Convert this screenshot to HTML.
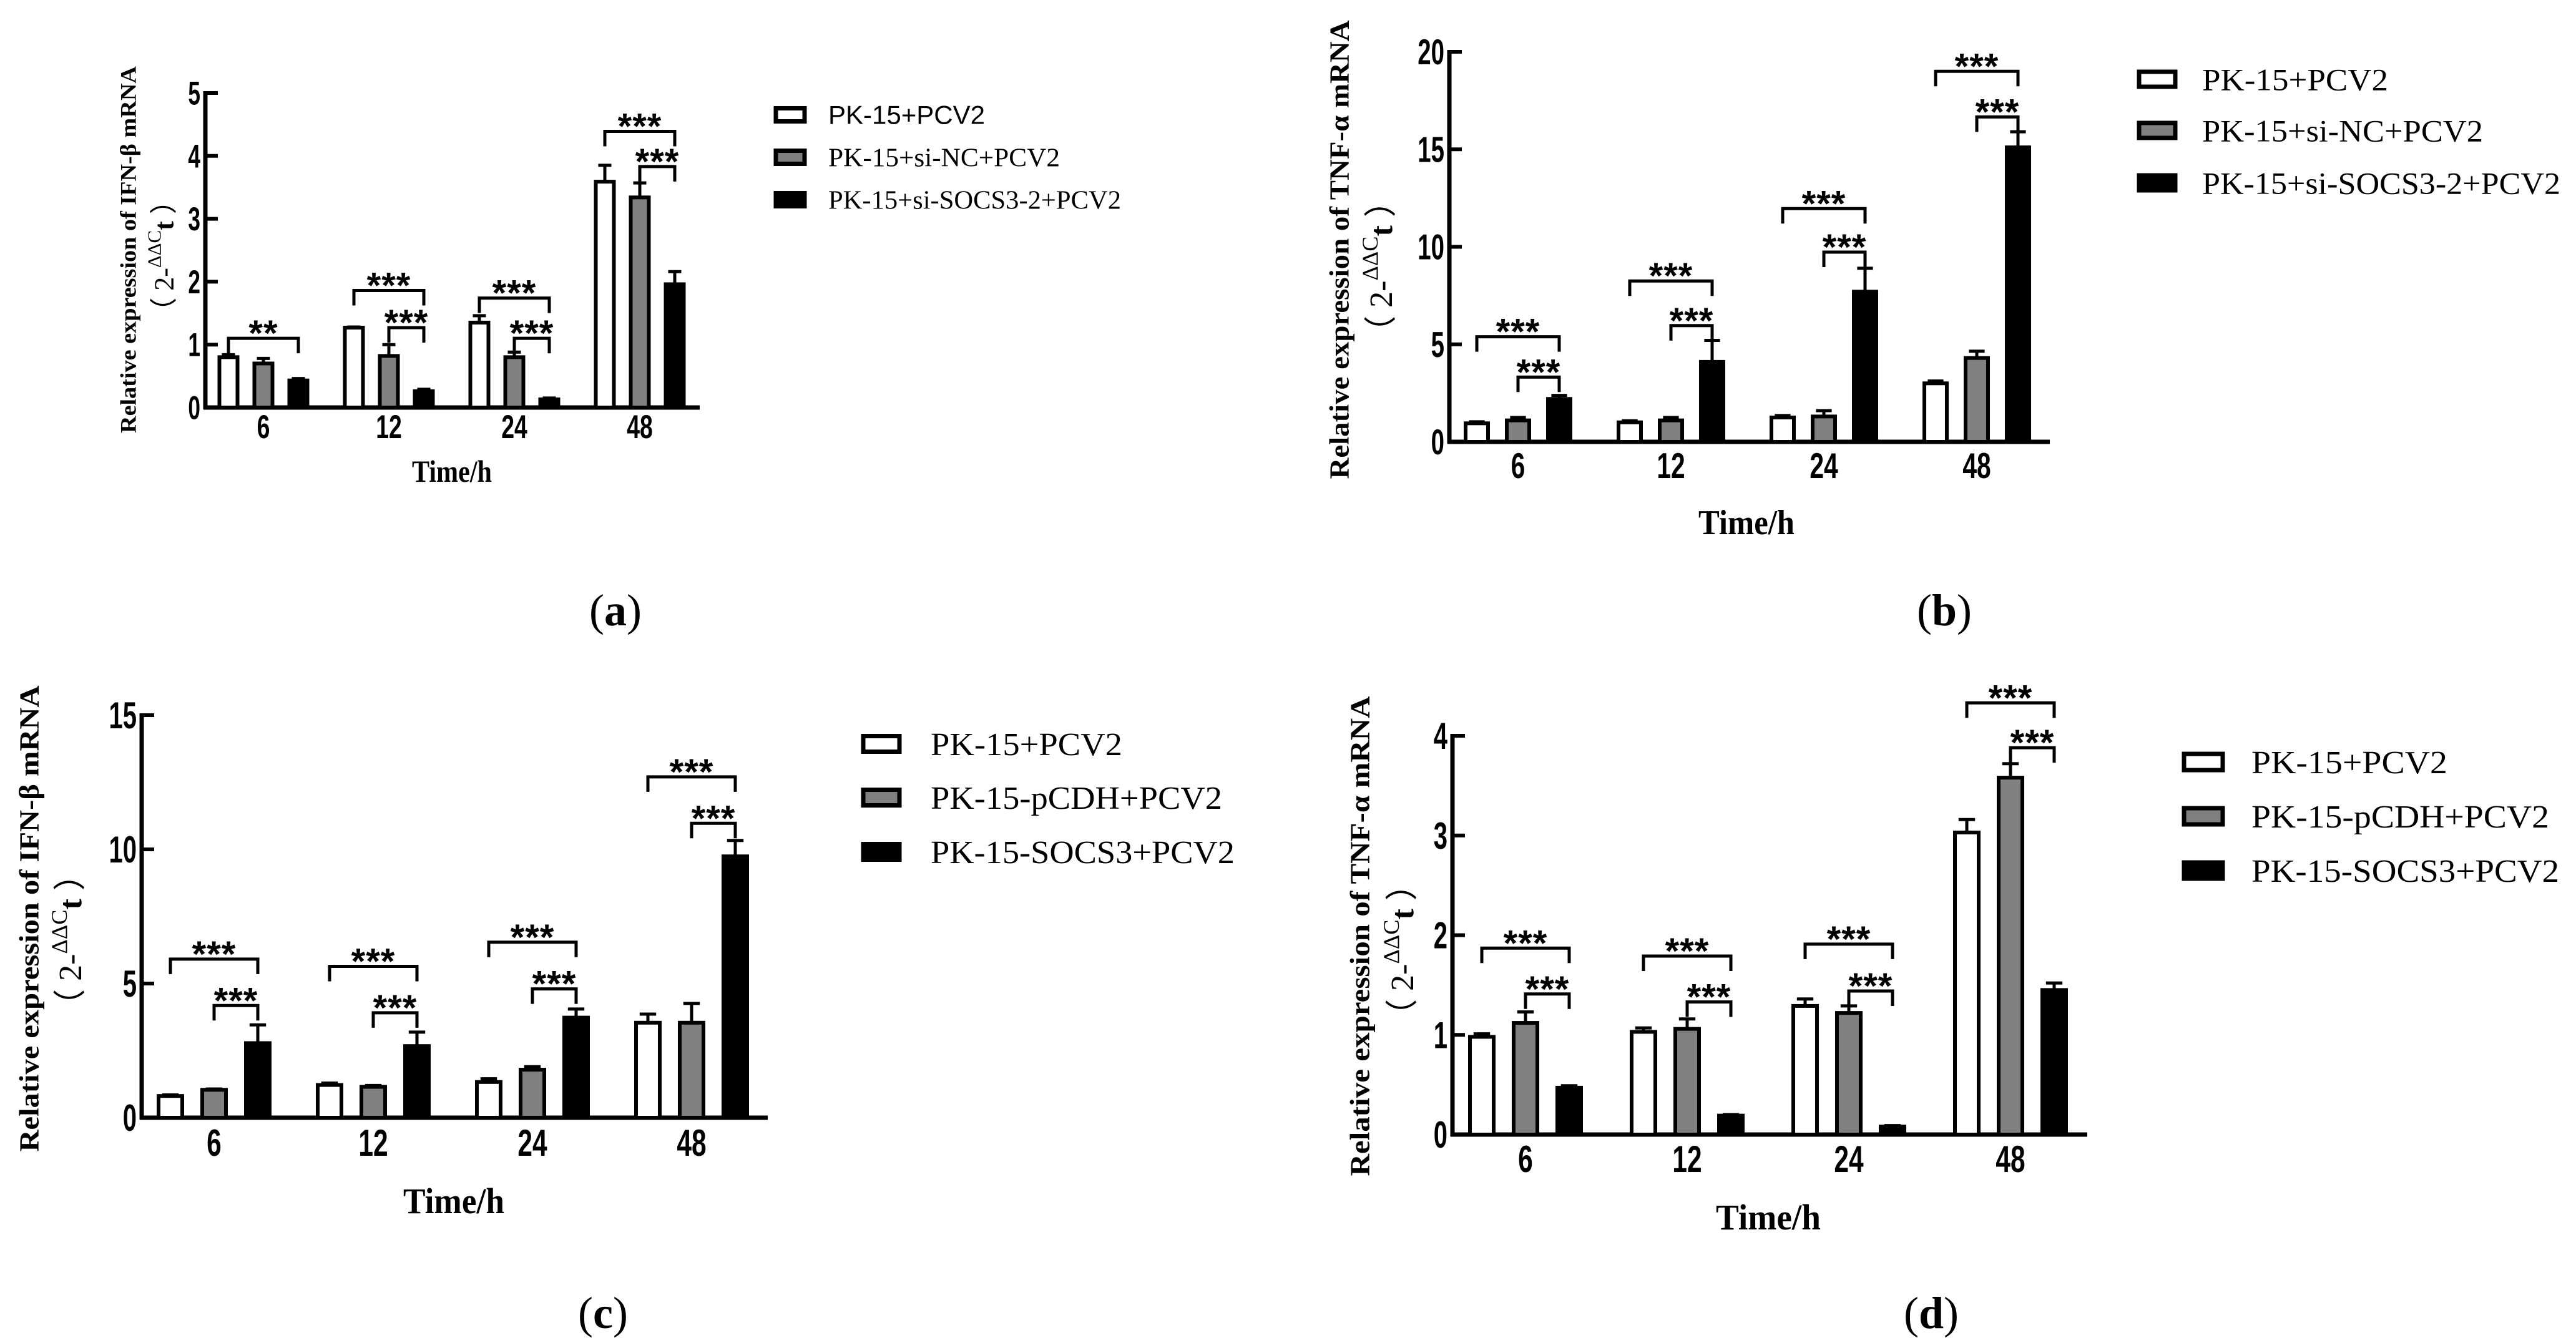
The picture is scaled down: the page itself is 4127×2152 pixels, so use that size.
<!DOCTYPE html>
<html><head><meta charset="utf-8">
<style>
html,body{margin:0;padding:0;background:#fff;}
svg{display:block;}
</style></head>
<body>
<svg id="fig" xmlns="http://www.w3.org/2000/svg" width="4127" height="2152" viewBox="0 0 4127 2152">
<rect x="0" y="0" width="4127" height="2152" fill="#fff"/>
</svg>
<script>
// ---------- data ----------
const categories = ["6","12","24","48"];
// panel a: IFN-β (siRNA)
const aWhite = [0.80,1.27,1.35,3.59];
const aWhiteErr = [0.04,0.01,0.11,0.26];
const aGray = [0.70,0.82,0.80,3.34];
const aGrayErr = [0.08,0.18,0.08,0.23];
const aBlack = [0.43,0.26,0.13,1.96];
const aBlackErr = [0.03,0.03,0.02,0.20];
const aBigBracket = [1.10,1.86,1.74,4.39];
const aSmallBracket = [null,1.27,1.10,3.83];
const aBigStars = ["**","***","***","***"];
const aTicks = ["0","1","2","3","4","5"];
// panel b: TNF-α (siRNA)
const bWhite = [0.95,1.00,1.25,3.00];
const bWhiteErr = [0.08,0.08,0.10,0.12];
const bGray = [1.10,1.10,1.30,4.30];
const bGrayErr = [0.15,0.15,0.30,0.35];
const bBlack = [2.20,4.10,7.70,15.10];
const bBlackErr = [0.18,1.10,1.20,0.80];
const bBigBracket = [5.39,8.25,11.96,19.0];
const bSmallBracket = [3.32,5.96,9.73,16.66];
const bBigStars = ["***","***","***","***"];
const bTicks = ["0","5","10","15","20"];
// panel c: IFN-β (overexpression)
const cWhite = [0.81,1.22,1.33,3.54];
const cWhiteErr = [0.04,0.07,0.12,0.32];
const cGray = [1.04,1.15,1.79,3.54];
const cGrayErr = [0.03,0.05,0.11,0.72];
const cBlack = [2.78,2.67,3.73,9.74];
const cBlackErr = [0.68,0.52,0.32,0.59];
const cBigBracket = [5.91,5.64,6.54,12.7];
const cSmallBracket = [4.18,3.91,4.80,10.97];
const cBigStars = ["***","***","***","***"];
const cTicks = ["0","5","10","15"];
// panel d: TNF-α (overexpression)
const dWhite = [0.98,1.03,1.29,3.03];
const dWhiteErr = [0.03,0.04,0.07,0.13];
const dGray = [1.12,1.06,1.22,3.58];
const dGrayErr = [0.11,0.10,0.07,0.14];
const dBlack = [0.47,0.19,0.08,1.45];
const dBlackErr = [0.02,0.01,0.01,0.07];
const dBigBracket = [1.87,1.79,1.91,4.33];
const dSmallBracket = [1.41,1.33,1.44,3.88];
const dBigStars = ["***","***","***","***"];
const dTicks = ["0","1","2","3","4"];

const aLegend = ["PK-15+PCV2","PK-15+si-NC+PCV2","PK-15+si-SOCS3-2+PCV2"];
const bLegend = ["PK-15+PCV2","PK-15+si-NC+PCV2","PK-15+si-SOCS3-2+PCV2"];
const cLegend = ["PK-15+PCV2","PK-15-pCDH+PCV2","PK-15-SOCS3+PCV2"];
const dLegend = ["PK-15+PCV2","PK-15-pCDH+PCV2","PK-15-SOCS3+PCV2"];

// ---------- layout ----------
const NS = "http://www.w3.org/2000/svg";
const svg = document.getElementById('fig');
function mk(tag, attrs, parent){
  const e = document.createElementNS(NS, tag);
  for (const k in attrs) e.setAttribute(k, attrs[k]);
  (parent||svg).appendChild(e);
  return e;
}

const panels = [
 {id:'a', ax:329, y0:653, yTop:149, yMax:5, xEnd:1121, first:93, sp:201, off:56, bw:35, tickFs:44, xlabY:702, xlabFs:44,
  white:aWhite, whiteErr:aWhiteErr, gray:aGray, grayErr:aGrayErr, black:aBlack, blackErr:aBlackErr,
  big:aBigBracket, small:aSmallBracket, stars:aBigStars, ticks:aTicks, legend:aLegend,
  leg:{sx:1240, sw:52, sh:27, rows:[184,252,320], tx:1327, ends:[1578,1698,1796], fs:42, firstSans:true},
  title:{x:205, y:400, len:588, fs:36, text:"Relative expression of IFN-\u03b2 mRNA"}, sub:{x:262, y:410, fs:44},
  time:{x:724, y:772, len:128, fs:50}, lab:{x:986, y:1002, t:"a"}},
 {id:'b', ax:2322, y0:708, yTop:83, yMax:20, xEnd:3284, first:110, sp:245, off:66, bw:42, tickFs:48, xlabY:766, xlabFs:48,
  white:bWhite, whiteErr:bWhiteErr, gray:bGray, grayErr:bGrayErr, black:bBlack, blackErr:bBlackErr,
  big:bBigBracket, small:bSmallBracket, stars:bBigStars, ticks:bTicks, legend:bLegend,
  leg:{sx:3424, sw:64, sh:30, rows:[127,209,293], tx:3528, ends:[3826,3978,4102], fs:50},
  title:{x:2145, y:400, len:735, fs:44, text:"Relative expression of TNF-\u03b1 mRNA"}, sub:{x:2212, y:427, fs:52},
  time:{x:2798, y:856, len:154, fs:56}, lab:{x:3115, y:1002, t:"b"}},
 {id:'c', ax:227, y0:1791, yTop:1146, yMax:15, xEnd:1230, first:116, sp:255, off:70, bw:44, tickFs:50, xlabY:1852, xlabFs:50,
  white:cWhite, whiteErr:cWhiteErr, gray:cGray, grayErr:cGrayErr, black:cBlack, blackErr:cBlackErr,
  big:cBigBracket, small:cSmallBracket, stars:cBigStars, ticks:cTicks, legend:cLegend,
  leg:{sx:1380, sw:64, sh:31, rows:[1192,1278,1365], tx:1491, ends:[1798,1958,1978], fs:52},
  title:{x:46, y:1472, len:747, fs:44, text:"Relative expression of IFN-\u03b2 mRNA"}, sub:{x:112, y:1506, fs:52},
  time:{x:727, y:1944, len:162, fs:58}, lab:{x:966, y:2128, t:"c"}},
 {id:'d', ax:2327, y0:1818, yTop:1179, yMax:4, xEnd:3344, first:117, sp:259, off:70, bw:44, tickFs:50, xlabY:1878, xlabFs:50,
  white:dWhite, whiteErr:dWhiteErr, gray:dGray, grayErr:dGrayErr, black:dBlack, blackErr:dBlackErr,
  big:dBigBracket, small:dSmallBracket, stars:dBigStars, ticks:dTicks, legend:dLegend,
  leg:{sx:3496, sw:68, sh:32, rows:[1221,1308,1395], tx:3607, ends:[3921,4084,4100], fs:52},
  title:{x:2178, y:1500, len:769, fs:44, text:"Relative expression of  TNF-\u03b1 mRNA"}, sub:{x:2246, y:1522, fs:52},
  time:{x:2833, y:1970, len:168, fs:58}, lab:{x:3094, y:2128, t:"d"}}
];

panels.forEach(p => {
  const g = mk('g', {});
  
  
  const yS = v => p.y0 - v / p.yMax * (p.y0 - p.yTop);
  const xC = i => p.ax + p.first + i * p.sp;

  // axes
  const yAxis = mk('line', {x1:p.ax, y1:p.yTop-3, x2:p.ax, y2:p.y0+3, stroke:'#000', 'stroke-width':7}, g);
  
  
  const xAxis = mk('line', {x1:p.ax-3, y1:p.y0, x2:p.xEnd, y2:p.y0, stroke:'#000', 'stroke-width':7}, g);
  
  

  // y ticks
  const step = p.yMax / (p.ticks.length - 1);
  p.ticks.forEach((t, k) => {
    const y = yS(k * step);
    mk('line', {x1:p.ax, y1:y, x2:p.ax+20, y2:y, stroke:'#000', 'stroke-width':6}, g);
    const tx = mk('text', {x:0, y:0, 'font-family':'Liberation Sans, sans-serif', 'font-weight':'bold',
      'font-size':p.tickFs, 'text-anchor':'end', transform:`translate(${p.ax-8},${y+p.tickFs*0.42}) scale(0.8,1.2)`}, g);
    tx.textContent = t;
    
    
  });

  // bars
  const series = [
    {vals:p.white, err:p.whiteErr, fill:'#fff', o:-p.off, n:'white'},
    {vals:p.gray, err:p.grayErr, fill:'#808080', o:0, n:'gray'},
    {vals:p.black, err:p.blackErr, fill:'#000', o:p.off, n:'black'}];
  categories.forEach((c, i) => {
    series.forEach(s => {
      const cx = xC(i) + s.o;
      const top = yS(s.vals[i]);
      const et = yS(s.vals[i] + s.err[i]);
      const el = mk('line', {x1:cx, y1:top, x2:cx, y2:et, stroke:'#000', 'stroke-width':5}, g);
      
      
      mk('line', {x1:cx-p.bw*0.3, y1:et, x2:cx+p.bw*0.3, y2:et, stroke:'#000', 'stroke-width':5}, g);
      const r = mk('rect', {x:cx-p.bw/2+3, y:top, width:p.bw-6, height:p.y0-top, fill:s.fill, stroke:'#000', 'stroke-width':6}, g);
      
      
    });
    // x label
    const xl = mk('text', {x:0, y:0, 'font-family':'Liberation Sans, sans-serif', 'font-weight':'bold',
      'font-size':p.xlabFs, 'text-anchor':'middle', transform:`translate(${xC(i)},${p.xlabY}) scale(0.85,1.2)`}, g);
    xl.textContent = c;
    
    

    // brackets
    const drawBr = (x1, x2, v, label) => {
      const y = yS(v);
      const br = mk('path', {d:`M${x1},${y+24} L${x1},${y} L${x2},${y} L${x2},${y+24}`, fill:'none', stroke:'#000', 'stroke-width':5}, g);
      
      
      const st = mk('text', {x:(x1+x2)/2, y:y+12, 'font-family':'Liberation Sans, sans-serif', 'font-size':58,
        'font-weight':'bold', 'text-anchor':'middle', 'letter-spacing':'1'}, g);
      st.textContent = label;
      
      
    };
    drawBr(xC(i) - p.off, xC(i) + p.off, p.big[i], p.stars[i]);
    if (p.small[i] !== null) drawBr(xC(i), xC(i) + p.off, p.small[i], "***");
  });

  // legend
  const fills = ['#fff', '#808080', '#000'];
  p.legend.forEach((t, k) => {
    const L = p.leg;
    const cy = L.rows[k];
    const sq = mk('rect', {x:L.sx+3, y:cy-L.sh/2+3, width:L.sw-6, height:L.sh-6, fill:fills[k], stroke:'#000', 'stroke-width':7}, g);
    
    
    const sans = L.firstSans && k === 0;
    const tx = mk('text', {x:L.tx, y:cy + L.fs*0.35, 'font-family': sans ? 'Liberation Sans, sans-serif' : 'Liberation Serif, serif',
      'font-size':L.fs, textLength:L.ends[k]-L.tx, lengthAdjust:'spacingAndGlyphs'}, g);
    tx.textContent = t;
    
    
  });

  // y title
  const tt = mk('text', {x:0, y:0, 'font-family':'Liberation Serif, serif', 'font-weight':'bold', 'font-size':p.title.fs,
    'text-anchor':'middle', textLength:p.title.len, lengthAdjust:'spacingAndGlyphs',
    transform:`translate(${p.title.x + p.title.fs*0.35},${p.title.y}) rotate(-90)`}, g);
  tt.textContent = p.title.text;
  
  
  const sb = mk('text', {x:0, y:0, 'font-family':'Liberation Serif, serif', 'font-size':p.sub.fs,
    'text-anchor':'middle', transform:`translate(${p.sub.x + p.sub.fs*0.35},${p.sub.y}) rotate(-90)`}, g);
  
  
  const t1 = mk('tspan', {}, sb); t1.textContent = "\uff08 2-";
  const t2 = mk('tspan', {dy:-p.sub.fs*0.45, 'font-size':p.sub.fs*0.7}, sb); t2.textContent = "\u0394\u0394C";
  const t3 = mk('tspan', {dy:p.sub.fs*0.45, 'font-weight':'bold'}, sb); t3.textContent = "t";
  const t4 = mk('tspan', {}, sb); t4.textContent = " \uff09";

  // x title
  const xt = mk('text', {x:p.time.x, y:p.time.y, 'font-family':'Liberation Serif, serif', 'font-weight':'bold',
    'font-size':p.time.fs, 'text-anchor':'middle', textLength:p.time.len, lengthAdjust:'spacingAndGlyphs'}, g);
  xt.textContent = "Time/h";
  
  

  // panel label
  const pl = mk('text', {x:p.lab.x, y:p.lab.y, 'font-family':'Liberation Serif, serif', 'font-size':72, 'text-anchor':'middle'}, svg);
  
  
  const l1 = mk('tspan', {}, pl); l1.textContent = "(";
  const l2 = mk('tspan', {'font-weight':'bold'}, pl); l2.textContent = p.lab.t;
  const l3 = mk('tspan', {}, pl); l3.textContent = ")";
});
</script>
</body></html>
